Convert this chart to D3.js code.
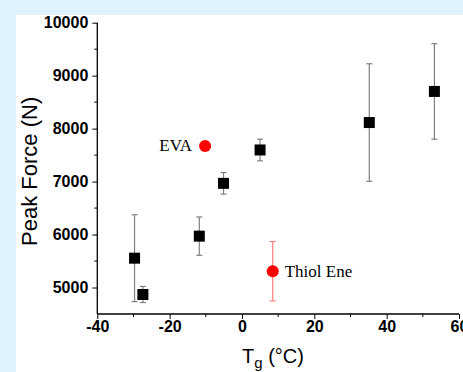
<!DOCTYPE html>
<html>
<head>
<meta charset="utf-8">
<script src="https://d3js.org/d3.v7.min.js"></script>
<style>
  body { margin: 0; background: #dff1fa; }
  svg { display: block; }
</style>
</head>
<body>
<svg id="chart" width="463" height="372"></svg>
<script>
// glass transition temperature (deg C) vs peak force (N)
const tempsSq  = [-29.7, -27.4, -11.8, -5.1, 5.0, 35.2, 53.2];
const forceSq  = [5554, 4868, 5970, 6967, 7597, 8115, 8702];
const errSq    = [820, 152, 362, 203, 205, 1110, 902];

const redNames = ["EVA", "Thiol Ene"];
const tempsRed = [-10.2, 8.5];
const forceRed = [7673, 5308];
const errRed   = [0, 560];

const xTicks = [-40, -20, 0, 20, 40, 60];
const xMinor = [-30, -10, 10, 30, 50];
const yTicks = [5000, 6000, 7000, 8000, 9000, 10000];
const yMinor = [5500, 6500, 7500, 8500, 9500];

const svg = d3.select('#chart');

// white panel
svg.append('rect')
    .attr('x', 16).attr('y', 15)
    .attr('width', 463).attr('height', 372)
    .attr('fill', '#ffffff');

const x = d3.scaleLinear().domain([-40, 60]).range([97.3, 459]);
const y = d3.scaleLinear().domain([4500, 10000]).range([314, 22.7]);

// axes
const xAxis = svg.append('g')
    .attr('transform', `translate(0,${y(4500)})`)
    .call(d3.axisBottom(x).tickValues(xTicks).tickSize(5).tickPadding(2)
        .tickFormat(d => String(d)));
xAxis.append('g').selectAll('line').data(xMinor).enter().append('line')
    .attr('x1', d => x(d)).attr('x2', d => x(d))
    .attr('y1', 0).attr('y2', 3).attr('stroke', '#000');

const yAxis = svg.append('g')
    .attr('transform', `translate(${x(-40)},0)`)
    .call(d3.axisLeft(y).tickValues(yTicks).tickSize(5).tickPadding(4)
        .tickFormat(d => String(d)));
yAxis.append('g').selectAll('line').data(yMinor).enter().append('line')
    .attr('y1', d => y(d)).attr('y2', d => y(d))
    .attr('x1', 0).attr('x2', -3).attr('stroke', '#000');

svg.selectAll('.domain').attr('stroke', '#000').attr('stroke-width', 1.3);
xAxis.select('.domain').attr('d', `M${x(-40)},0H${x(60)}`);
yAxis.select('.domain').attr('d', `M0,${y(10000)}V${y(4500)}`);

svg.selectAll('.tick line').attr('stroke', '#000');
svg.selectAll('.tick text')
    .attr('font-family', 'Arial, "Liberation Sans", sans-serif')
    .attr('font-weight', 'bold')
    .attr('font-size', 16)
    .attr('fill', '#000');

// axis titles
svg.append('text')
    .attr('transform', `translate(37,${(y(10000) + y(4500)) / 2 + 3}) rotate(-90)`)
    .attr('text-anchor', 'middle')
    .attr('font-family', 'Arial, "Liberation Sans", sans-serif')
    .attr('font-size', 22)
    .text('Peak Force (N)');

const xt = svg.append('text')
    .attr('x', 273).attr('y', 363)
    .attr('text-anchor', 'middle')
    .attr('font-family', 'Arial, "Liberation Sans", sans-serif')
    .attr('font-size', 20);
xt.append('tspan').text('T');
xt.append('tspan').attr('font-size', 15).attr('dy', 5).text('g');
xt.append('tspan').attr('dy', -5).text(' (\u00B0C)');

// error bars, squares
const sq = tempsSq.map((t, i) => ({t, f: forceSq[i], e: errSq[i]}));
const eb = svg.append('g').attr('stroke', '#808080').attr('stroke-width', 1.2);
sq.forEach(d => {
    eb.append('line').attr('x1', x(d.t)).attr('x2', x(d.t))
        .attr('y1', y(d.f + d.e)).attr('y2', y(d.f - d.e));
    [d.f + d.e, d.f - d.e].forEach(v => {
        eb.append('line').attr('x1', x(d.t) - 3).attr('x2', x(d.t) + 3)
            .attr('y1', y(v)).attr('y2', y(v));
    });
});
svg.append('g').selectAll('rect').data(sq).enter().append('rect')
    .attr('x', d => x(d.t) - 5.5).attr('y', d => y(d.f) - 5.5)
    .attr('width', 11).attr('height', 11)
    .attr('fill', '#000');

// red points
const red = tempsRed.map((t, i) => ({name: redNames[i], t, f: forceRed[i], e: errRed[i]}));
const rb = svg.append('g').attr('stroke', '#ff7f7f').attr('stroke-width', 1.2);
red.filter(d => d.e > 0).forEach(d => {
    rb.append('line').attr('x1', x(d.t)).attr('x2', x(d.t))
        .attr('y1', y(d.f + d.e)).attr('y2', y(d.f - d.e));
    [d.f + d.e, d.f - d.e].forEach(v => {
        rb.append('line').attr('x1', x(d.t) - 3).attr('x2', x(d.t) + 3)
            .attr('y1', y(v)).attr('y2', y(v));
    });
});
svg.append('g').selectAll('circle').data(red).enter().append('circle')
    .attr('cx', d => x(d.t)).attr('cy', d => y(d.f))
    .attr('r', 6).attr('fill', '#ff0000');

svg.append('g').selectAll('text').data(red).enter().append('text')
    .attr('x', (d, i) => i === 0 ? x(d.t) - 13 : x(d.t) + 12)
    .attr('y', d => y(d.f) + 5.5)
    .attr('text-anchor', (d, i) => i === 0 ? 'end' : 'start')
    .attr('font-family', '"Liberation Serif", "Times New Roman", serif')
    .attr('font-size', 17)
    .text(d => d.name);
</script>
</body>
</html>
